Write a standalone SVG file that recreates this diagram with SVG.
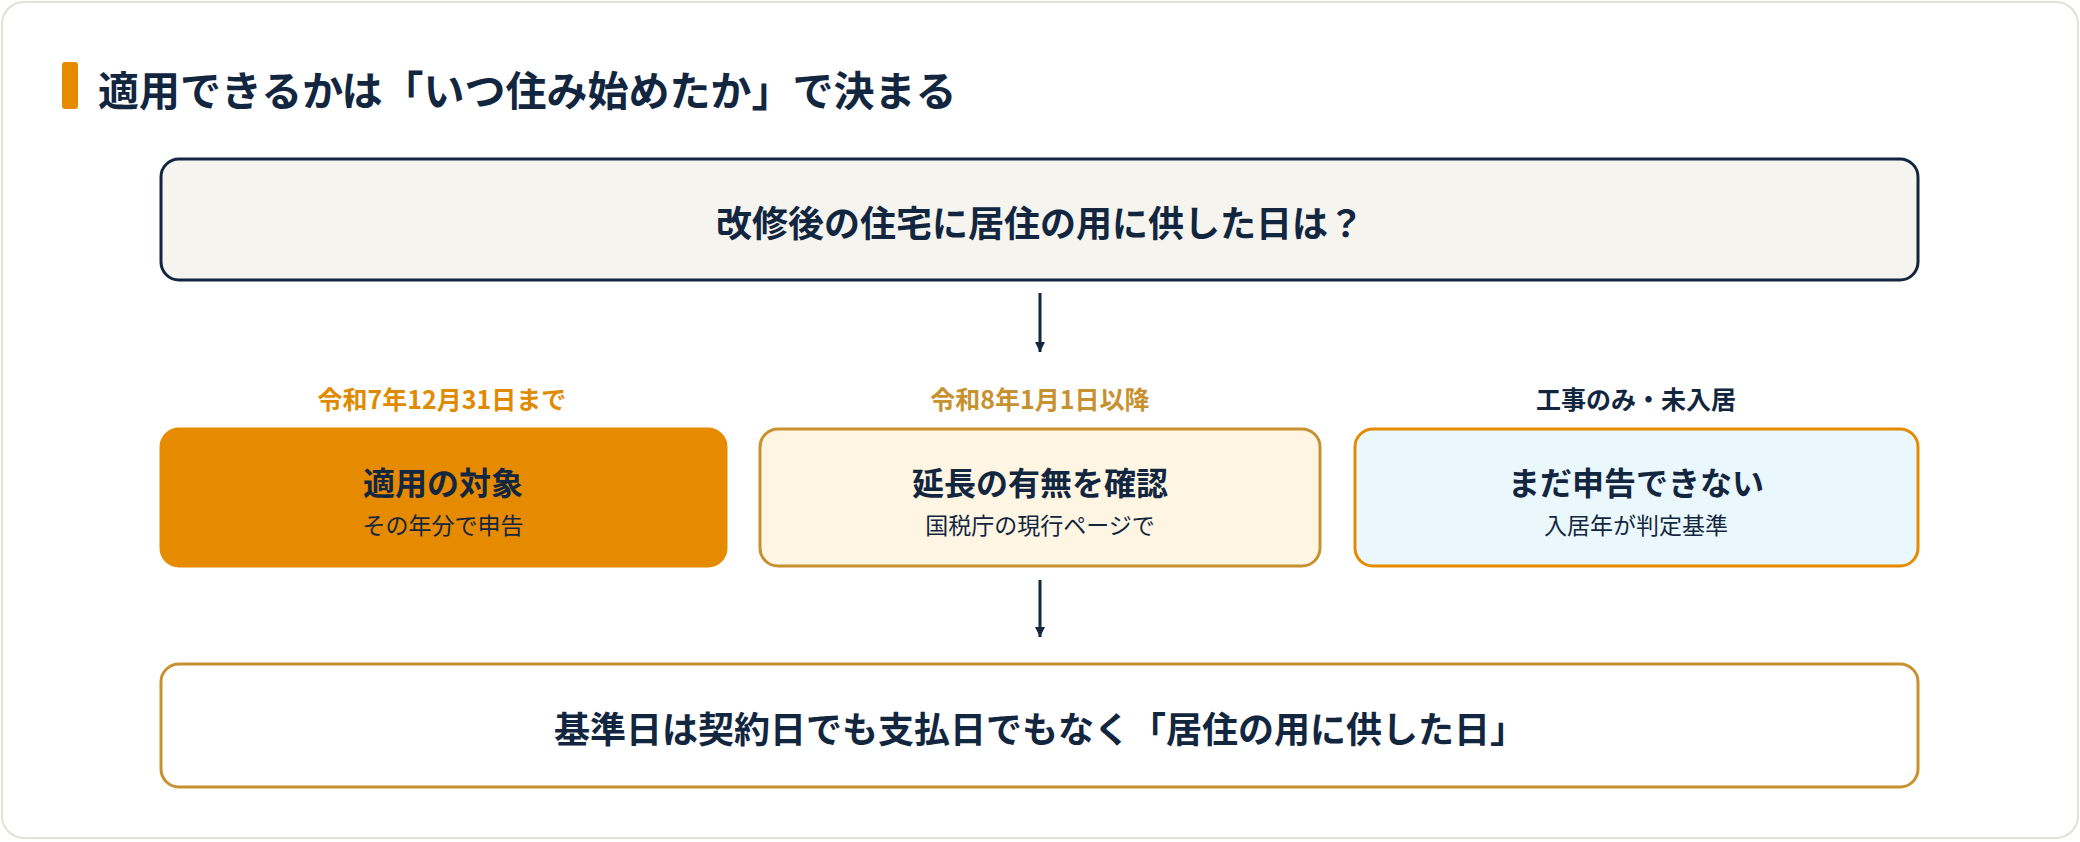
<svg xmlns="http://www.w3.org/2000/svg" width="2080" height="842" viewBox="0 0 2080 842">
<defs>
<style>
text{font-family:"Noto Sans CJK JP","Noto Sans",sans-serif;text-anchor:middle;dominant-baseline:central}
.b{font-weight:700}
.navy{fill:#12263f}
</style>
<marker id="ah" viewBox="0 0 10 10" refX="10" refY="5" markerWidth="10" markerHeight="10" markerUnits="userSpaceOnUse" orient="auto">
<path d="M0,0 L10,5 L0,10 z" fill="#12263f"/>
</marker>
</defs>
<rect x="2" y="2" width="2076" height="836" rx="22" fill="#fff" stroke="#e3e0d4" stroke-width="2"/>
<g id="title">
<rect x="62" y="62" width="16" height="47" rx="3" fill="#e68a00"/>
<text x="98" y="88" class="b navy" font-size="41" style="text-anchor:start">適用できるかは「いつ住み始めたか」で決まる</text>
</g>
<g id="q">
<rect x="161" y="159" width="1757" height="121" rx="18" fill="#f5f4ef" stroke="#12263f" stroke-width="3"/>
<text x="1040" y="221" class="b navy" font-size="36">改修後の住宅に居住の用に供した日は？</text>
</g>
<g id="l1"><text x="442" y="398" class="b" font-size="25" fill="#e08a00">令和7年12月31日まで</text></g>
<g id="l2"><text x="1040" y="398" class="b" font-size="25" fill="#c8912f">令和8年1月1日以降</text></g>
<g id="l3"><text x="1636" y="398" class="b navy" font-size="25">工事のみ・未入居</text></g>
<g id="n1">
<rect x="161" y="429" width="565" height="137" rx="18" fill="#e68a00" stroke="#e68a00" stroke-width="3"/>
<text x="443" y="481" class="b navy" font-size="32">適用の対象</text>
<text x="443" y="524" class="navy" font-size="23">その年分で申告</text>
</g>
<g id="n2">
<rect x="760" y="429" width="560" height="137" rx="18" fill="#fff5e3" stroke="#c8912f" stroke-width="3"/>
<text x="1040" y="481" class="b navy" font-size="32">延長の有無を確認</text>
<text x="1040" y="524" class="navy" font-size="23">国税庁の現行ページで</text>
</g>
<g id="n3">
<rect x="1355" y="429" width="563" height="137" rx="18" fill="#eaf7fc" stroke="#e68a00" stroke-width="3"/>
<text x="1636" y="481" class="b navy" font-size="32">まだ申告できない</text>
<text x="1636" y="524" class="navy" font-size="23">入居年が判定基準</text>
</g>
<g id="bottom">
<rect x="161" y="664" width="1757" height="123" rx="18" fill="#fff" stroke="#c8912f" stroke-width="3"/>
<text x="1040" y="727" class="b navy" font-size="36">基準日は契約日でも支払日でもなく「居住の用に供した日」</text>
</g>
<g id="connectors" stroke="#12263f" stroke-width="3" fill="none">
<line x1="1040" y1="293" x2="1040" y2="352" marker-end="url(#ah)"/>
<line x1="1040" y1="580" x2="1040" y2="637" marker-end="url(#ah)"/>
</g>
</svg>
